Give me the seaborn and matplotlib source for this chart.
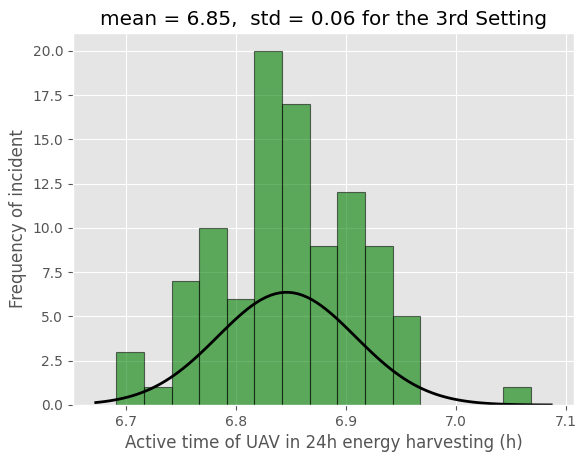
import numpy as np
import matplotlib
matplotlib.use("Agg")
import matplotlib.pyplot as plt
import seaborn as sns

# Histogram data
bin_edges = [6.6913 + i * 0.02511 for i in range(16)]
counts = [3, 1, 7, 10, 6, 20, 17, 9, 12, 9, 5, 0, 0, 0, 1]
mu = 6.846
sigma = 0.0627
title = "mean = 6.85,  std = 0.06 for the 3rd Setting"
xlabel = "Active time of UAV in 24h energy harvesting (h)"
ylabel = "Frequency of incident"

plt.style.use("ggplot")
fig = plt.figure(figsize=(5.79, 4.57), dpi=100)
ax = fig.add_axes([73 / 579, 1 - 405 / 457, (574 - 73) / 579, (405 - 33) / 457])

centers = [(bin_edges[i] + bin_edges[i + 1]) / 2 for i in range(len(counts))]
sns.histplot(x=centers, weights=counts, bins=bin_edges, color="g", alpha=0.6,
             edgecolor=(0, 0, 0, 0.55), linewidth=0.8, ax=ax)

xmin, xmax = ax.get_xlim()
x = np.linspace(xmin, xmax, 100)
p = np.exp(-0.5 * ((x - mu) / sigma) ** 2) / (sigma * np.sqrt(2 * np.pi))
sns.lineplot(x=x, y=p, color="k", linewidth=2, ax=ax)

ax.set_title(title)
ax.set_xlabel(xlabel)
ax.set_ylabel(ylabel)
ax.set_xticks([6.7, 6.8, 6.9, 7.0, 7.1])
fig.savefig("out.png", dpi=100)
